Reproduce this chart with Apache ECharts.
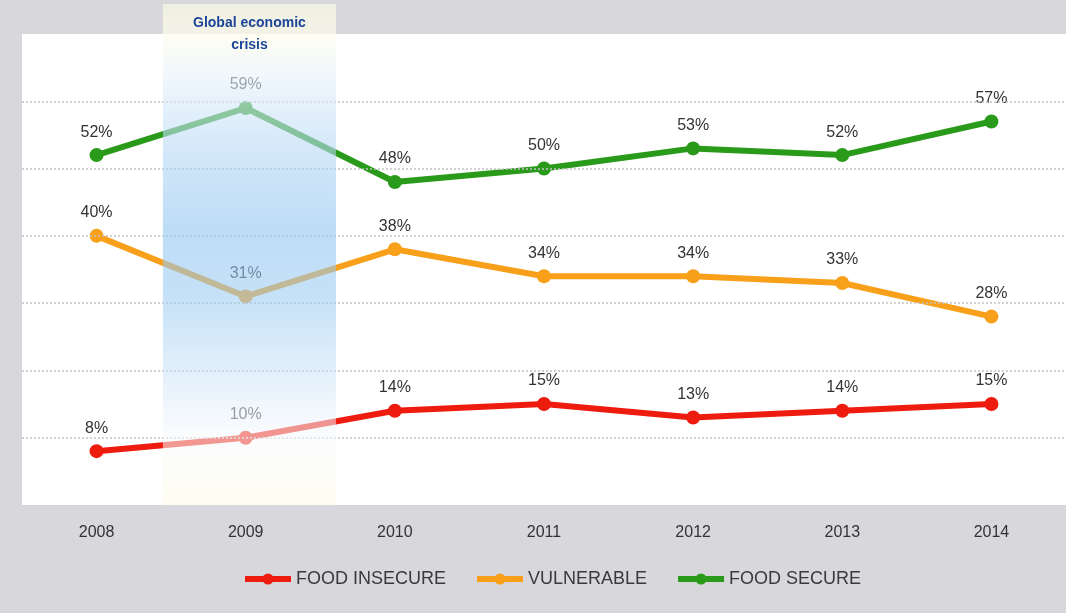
<!DOCTYPE html>
<html>
<head>
<meta charset="utf-8">
<script src="https://cdn.jsdelivr.net/npm/echarts@6/dist/echarts.min.js"></script>
<style>
  html, body { margin: 0; padding: 0; background: #d8d8dc; }
  #chart { width: 1066px; height: 613px; }
</style>
</head>
<body>
<div id="chart"></div>
<script>
// Share of households by food security status, 2008-2014 (%)
const years = ['2008', '2009', '2010', '2011', '2012', '2013', '2014'];
const foodInsecure = [8, 10, 14, 15, 13, 14, 15];
const vulnerable = [40, 31, 38, 34, 34, 33, 28];
const foodSecure = [52, 59, 48, 50, 53, 52, 57];
const gridValues = [10, 20, 30, 40, 50, 60];
const crisisYear = '2009';
const crisisLabel = 'Global economic\ncrisis';

const FONT = '"Liberation Sans", Arial, sans-serif';
const TEXT = '#333333';

function lineSeries(name, data, color) {
  return {
    name: name,
    type: 'line',
    data: data,
    z: 3,
    symbol: 'circle',
    symbolSize: 14,
    lineStyle: { color: color, width: 6 },
    itemStyle: { color: color, borderWidth: 0 },
    label: {
      show: true,
      position: 'top',
      distance: 8,
      formatter: '{c}%',
      color: TEXT,
      fontFamily: FONT,
      fontSize: 16
    },
    emphasis: { disabled: true },
    animation: false
  };
}

const chart = echarts.init(document.getElementById('chart'), null, { renderer: 'canvas' });

chart.setOption({
  backgroundColor: '#d8d8dc',
  animation: false,
  grid: {
    left: 22, right: 0, top: 34, bottom: 108,
    show: true, backgroundColor: '#ffffff', borderWidth: 0
  },
  xAxis: {
    type: 'category',
    data: years,
    boundaryGap: true,
    axisLine: { show: false },
    axisTick: { show: false },
    axisLabel: { color: TEXT, fontFamily: FONT, fontSize: 16, margin: 20 }
  },
  yAxis: {
    type: 'value',
    min: 0, max: 70, interval: 10,
    show: false,
    splitLine: { show: false }
  },
  legend: {
    data: ['FOOD INSECURE', 'VULNERABLE', 'FOOD SECURE'],
    left: 242,
    top: 570,
    padding: 0,
    itemWidth: 46,
    itemHeight: 14,
    itemGap: 28,
    lineStyle: { width: 6 },
    textStyle: { color: '#3a3a3a', fontFamily: FONT, fontSize: 18 },
    selectedMode: false
  },
  series: [
    // dotted horizontal guides every 10 points
    {
      type: 'line',
      data: [],
      z: 1,
      silent: true,
      markLine: {
        silent: true,
        symbol: 'none',
        label: { show: false },
        lineStyle: { type: [2, 2], color: '#c2c2c2', width: 1.5 },
        data: gridValues.map(v => ({ yAxis: v }))
      }
    },
    lineSeries('FOOD INSECURE', foodInsecure, '#ee1c0e'),
    lineSeries('VULNERABLE', vulnerable, '#f8a01a'),
    lineSeries('FOOD SECURE', foodSecure, '#2a9a1a')
  ]
});

// Translucent highlight over the crisis year, laid above the lines
const idx = years.indexOf(crisisYear);
const cx0 = chart.convertToPixel({ xAxisIndex: 0 }, crisisYear);
const step = chart.convertToPixel({ xAxisIndex: 0 }, years[idx + 1]) - cx0;
const cx = cx0 + step * 0.025;
const halfW = step * 0.58;
const bandTop = 4;
const bandBottom = chart.convertToPixel({ yAxisIndex: 0 }, 0);
const bandH = bandBottom - bandTop;

chart.setOption({
  graphic: [
    {
      type: 'rect',
      z: 100,
      silent: true,
      shape: { x: cx - halfW, y: bandTop, width: halfW * 2, height: bandH },
      style: {
        fill: new echarts.graphic.LinearGradient(0, 0, 0, 1, [
          { offset: 0, color: 'rgba(250,250,228,0.7)' },
          { offset: 0.06, color: 'rgba(255,253,235,0.7)' },
          { offset: 0.14, color: 'rgba(232,242,251,0.6)' },
          { offset: 0.3, color: 'rgba(180,215,245,0.6)' },
          { offset: 0.45, color: 'rgba(145,198,240,0.6)' },
          { offset: 0.58, color: 'rgba(155,203,242,0.58)' },
          { offset: 0.75, color: 'rgba(210,230,248,0.56)' },
          { offset: 0.86, color: 'rgba(246,249,252,0.55)' },
          { offset: 1, color: 'rgba(255,252,232,0.6)' }
        ])
      }
    },
    {
      type: 'text',
      z: 101,
      silent: true,
      x: cx,
      y: 12,
      style: {
        text: crisisLabel,
        fill: '#1c4597',
        font: 'bold 14px ' + FONT,
        align: 'center',
        verticalAlign: 'top',
        lineHeight: 22
      }
    }
  ]
});
</script>
</body>
</html>
